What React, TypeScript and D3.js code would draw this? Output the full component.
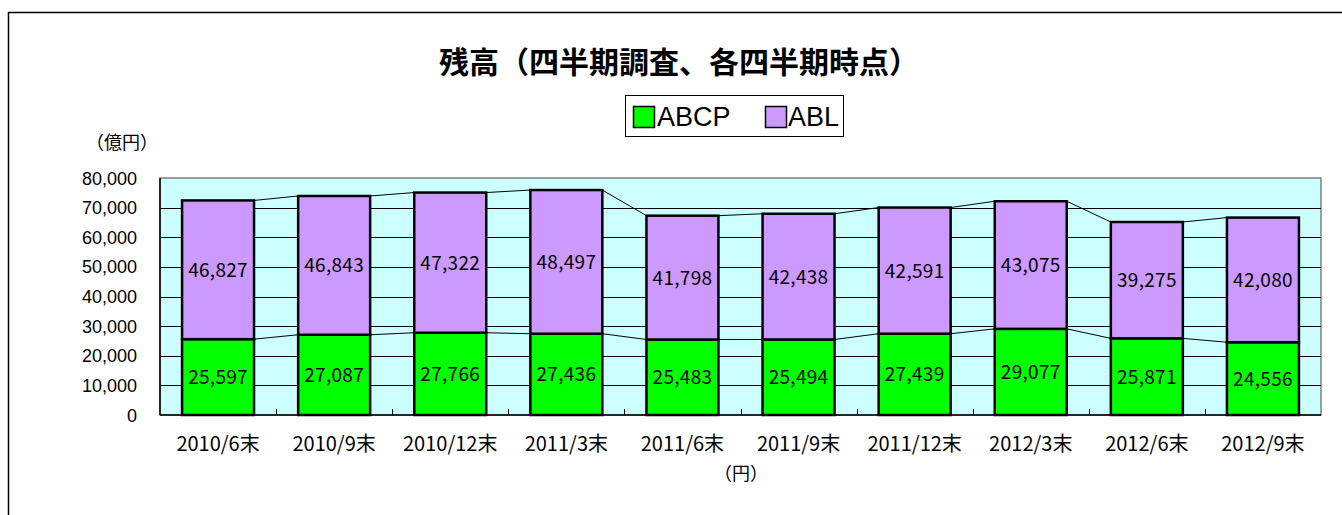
import React from "react";
import * as d3 from "d3";

const categories = ["2010/6末", "2010/9末", "2010/12末", "2011/3末", "2011/6末", "2011/9末", "2011/12末", "2012/3末", "2012/6末", "2012/9末"];
const abcp = [25597, 27087, 27766, 27436, 25483, 25494, 27439, 29077, 25871, 24556];
const abl = [46827, 46843, 47322, 48497, 41798, 42438, 42591, 43075, 39275, 42080];
const yTicks = [0, 10000, 20000, 30000, 40000, 50000, 60000, 70000, 80000];
const seriesNames = ["ABCP", "ABL"];
const title = "残高（四半期調査、各四半期時点）";

const W = 1342, H = 515;
const plot = { left: 160, right: 1321, top: 178, bottom: 415 };

export default function App() {
  const x = d3.scaleBand<string>().domain(categories).range([plot.left, plot.right]).paddingInner(0.38).paddingOuter(0.19);
  const y = d3.scaleLinear().domain([0, 80000]).range([plot.bottom, plot.top]);
  const fmt = d3.format(",");
  const bw = x.bandwidth();
  const step = x.step();
  const jp = "'Noto Sans CJK JP', sans-serif";
  const arial = "'Liberation Sans', Arial, sans-serif";
  const colors = ["#00ff00", "#cc99ff"];

  const series = [
    { vals: abcp, base: abcp.map(() => 0), color: colors[0] },
    { vals: abl, base: abcp, color: colors[1] },
  ];

  return (
    <svg width={W} height={H} style={{ position: "absolute", left: 0, top: 0 }}>
      <rect x={0} y={0} width={W} height={H} fill="#fff" />
      <rect x={8.5} y={12.5} width={W + 10} height={H + 10} fill="none" stroke="#000" strokeWidth={1.5} />
      <text x={679} y={73} textAnchor="middle" fontFamily={jp} fontWeight="bold" fontSize={30}>{title}</text>
      {/* legend */}
      <rect x={625.5} y={95.5} width={218} height={41} fill="#fff" stroke="#000" />
      <rect x={633.5} y={106.5} width={21} height={21} fill={colors[0]} stroke="#000" strokeWidth={1.5} />
      <text x={657} y={126} fontFamily={arial} fontSize={27}>{seriesNames[0]}</text>
      <rect x={765.5} y={106.5} width={21} height={21} fill={colors[1]} stroke="#000" strokeWidth={1.5} />
      <text x={788} y={126} fontFamily={arial} fontSize={27}>{seriesNames[1]}</text>
      <text x={122} y={149} textAnchor="middle" fontFamily={jp} fontSize={18}>（億円）</text>
      {/* plot */}
      <rect x={plot.left} y={plot.top} width={plot.right - plot.left} height={plot.bottom - plot.top} fill="#ccffff" stroke="#808080" strokeWidth={1.5} />
      {yTicks.filter(t => t > 0 && t < 80000).map(t => (
        <line key={t} x1={plot.left} x2={plot.right} y1={Math.round(y(t)) + 0.5} y2={Math.round(y(t)) + 0.5} stroke="#000" strokeWidth={1} />
      ))}
      {yTicks.map(t => (
        <text key={t} x={137} y={y(t) + 6.5} textAnchor="end" fontFamily={arial} fontSize={18}>{fmt(t)}</text>
      ))}
      {categories.slice(1).map((c, i) => {
        const xx = Math.round(plot.left + step * (i + 1)) + 0.5;
        return <line key={c} x1={xx} x2={xx} y1={plot.bottom} y2={plot.bottom - 6} stroke="#000" />;
      })}
      {/* series lines */}
      {[abcp.map((v) => v), abcp.map((v, i) => v + abl[i])].map((arr, si) =>
        arr.slice(0, -1).map((v, i) => (
          <line key={`${si}-${i}`} x1={x(categories[i])! + bw} y1={y(v)} x2={x(categories[i + 1])!} y2={y(arr[i + 1])} stroke="#000" strokeWidth={1} />
        ))
      )}
      {series.map((s, si) =>
        s.vals.map((v, i) => {
          const x0 = x(categories[i])!;
          const y0 = y(s.base[i] + v);
          const y1 = y(s.base[i]);
          return (
            <g key={`${si}-${i}`}>
              <rect x={x0} y={y0} width={bw} height={y1 - y0} fill={s.color} stroke="#000" strokeWidth={2.5} />
              <text x={x0 + bw / 2} y={(y0 + y1) / 2 + 7} textAnchor="middle" fontFamily={jp} fontSize={19} letterSpacing={0.3}>{fmt(v)}</text>
            </g>
          );
        })
      )}
      <line x1={plot.left} x2={plot.right} y1={plot.bottom} y2={plot.bottom} stroke="#000" strokeWidth={1.5} />
      <line x1={plot.left} x2={plot.left} y1={plot.top} y2={plot.bottom} stroke="#000" strokeWidth={1.5} />
      {categories.map(c => (
        <text key={c} x={x(c)! + bw / 2} y={451} textAnchor="middle" fontFamily={jp} fontSize={20}>{c}</text>
      ))}
      <text x={741} y={480} textAnchor="middle" fontFamily={jp} fontSize={18}>（円）</text>
    </svg>
  );
}
